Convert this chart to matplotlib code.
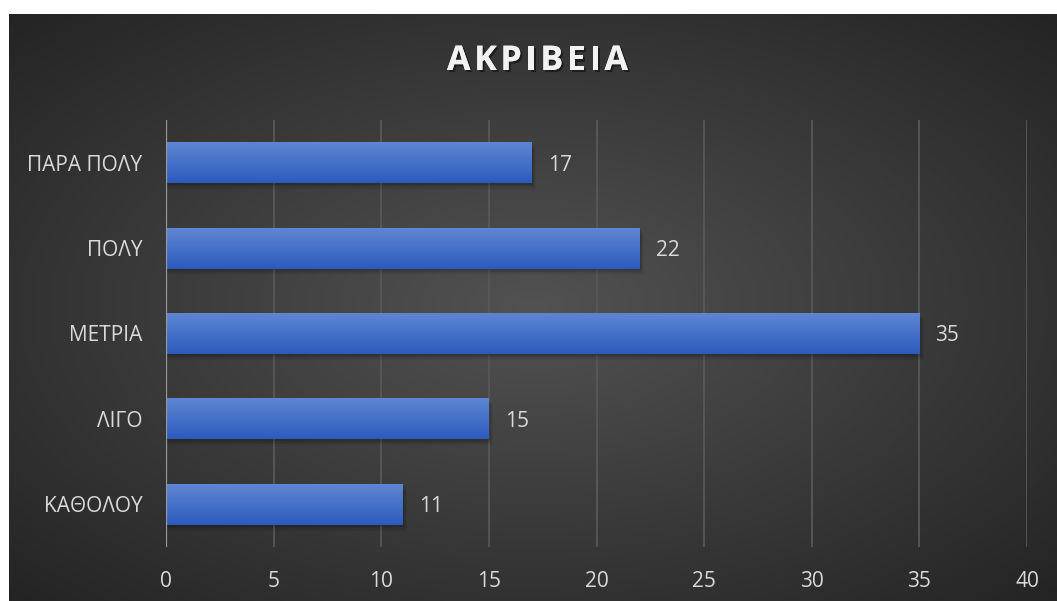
import numpy as np
import matplotlib
matplotlib.use("Agg")
import matplotlib.pyplot as plt
from matplotlib.patches import Rectangle
import matplotlib.patheffects as pe

categories = ["ΚΑΘΟΛΟΥ", "ΛΙΓΟ", "ΜΕΤΡΙΑ", "ΠΟΛΥ", "ΠΑΡΑ ΠΟΛΥ"]
values = [11, 15, 35, 22, 17]
x_ticks = [0, 5, 10, 15, 20, 25, 30, 35, 40]
title = "ΑΚΡΙΒΕΙΑ"

W, H, DPI = 1057, 601, 100
fig = plt.figure(figsize=(W / DPI, H / DPI), dpi=DPI, facecolor="white")
FONT = "Open Sans"
LABEL_SIZE = 15

# dark panel with a soft radial glow
bg = fig.add_axes([9 / W, 0, 1 - 9 / W, (H - 14) / H])
bg.set_axis_off()
nx, ny = 400, 240
xx, yy = np.meshgrid(np.linspace(-1, 1, nx), np.linspace(-1, 1, ny))
r = np.clip(np.sqrt(xx ** 2 + yy ** 2) / np.sqrt(2), 0, 1)
inner = np.array([0x52, 0x52, 0x52]) / 255
outer = np.array([0x24, 0x24, 0x24]) / 255
img = inner[None, None, :] * (1 - r[..., None]) + outer[None, None, :] * r[..., None]
bg.imshow(img, extent=[0, 1, 0, 1], aspect="auto", interpolation="bilinear")
bg.set_xlim(0, 1)
bg.set_ylim(0, 1)

ax = fig.add_axes([166 / W, 1 - 547 / H, (1027 - 166) / W, (547 - 120) / H])
ax.patch.set_alpha(0)
y = np.arange(len(categories))
bar_h = 0.48

ax.set_xlim(0, 40)
ax.set_ylim(-0.5, len(categories) - 0.5)

for t in x_ticks[1:]:
    ax.axvline(t, color="#585858", lw=1.3, zorder=0.5)
ax.axvline(0, color="#9a9a9a", lw=1.6, zorder=3)

bar_grad = np.linspace(0, 1, 64)[:, None]
top_c = np.array([0x5e, 0x86, 0xd3]) / 255
bot_c = np.array([0x2c, 0x5b, 0xbd]) / 255
grad_img = top_c[None, None, :] * (1 - bar_grad[..., None]) + bot_c[None, None, :] * bar_grad[..., None]

for yi, v in zip(y, values):
    # soft drop shadow under each bar
    for k, a in enumerate([0.10, 0.08, 0.06, 0.04]):
        ax.add_patch(Rectangle((0, yi - bar_h / 2 - 0.02 - k * 0.018), v + 0.05 + k * 0.05, bar_h,
                               facecolor="black", alpha=a, lw=0, zorder=1))
    bars = ax.barh(yi, v, height=bar_h, color="#3d6cc8", lw=0, zorder=2)
    im = ax.imshow(grad_img, extent=[0, v, yi - bar_h / 2, yi + bar_h / 2],
                   aspect="auto", interpolation="bilinear", zorder=2.1)
    im.set_clip_path(bars[0])
    ax.text(v + 0.75, yi, str(v), color="#d9d9d9", fontsize=LABEL_SIZE, family=FONT,
            va="center_baseline", ha="left", zorder=4)

ax.set_yticks(y)
ax.set_yticklabels(categories)
ax.set_xticks(x_ticks)
ax.set_xticklabels([str(t) for t in x_ticks])
ax.tick_params(axis="both", length=0, colors="#d9d9d9", labelsize=LABEL_SIZE)
ax.tick_params(axis="x", pad=17)
ax.tick_params(axis="y", pad=17)
for lab in ax.get_xticklabels() + ax.get_yticklabels():
    lab.set_family(FONT)
for s in ax.spines.values():
    s.set_visible(False)

# title with wide letter spacing, placed glyph by glyph
renderer = fig.canvas.get_renderer()
title_kw = dict(color="#f2f2f2", fontsize=24.5, fontweight="bold", family=FONT,
                va="center", ha="left",
                path_effects=[pe.withSimplePatchShadow(offset=(1.5, -1.5), shadow_rgbFace="black", alpha=0.45),
                              pe.Normal()])
widths = []
for ch in title:
    t = fig.text(0, 0, ch, **title_kw)
    widths.append(t.get_window_extent(renderer).width)
    t.remove()
total_target = 181.0
gap = (total_target - sum(widths)) / (len(title) - 1)
x0 = 537.5 - total_target / 2
ty = 1 - 61 / H
for ch, w in zip(title, widths):
    fig.text(x0 / W, ty, ch, **title_kw)
    x0 += w + gap

fig.savefig("out.png", dpi=DPI, facecolor="white")
